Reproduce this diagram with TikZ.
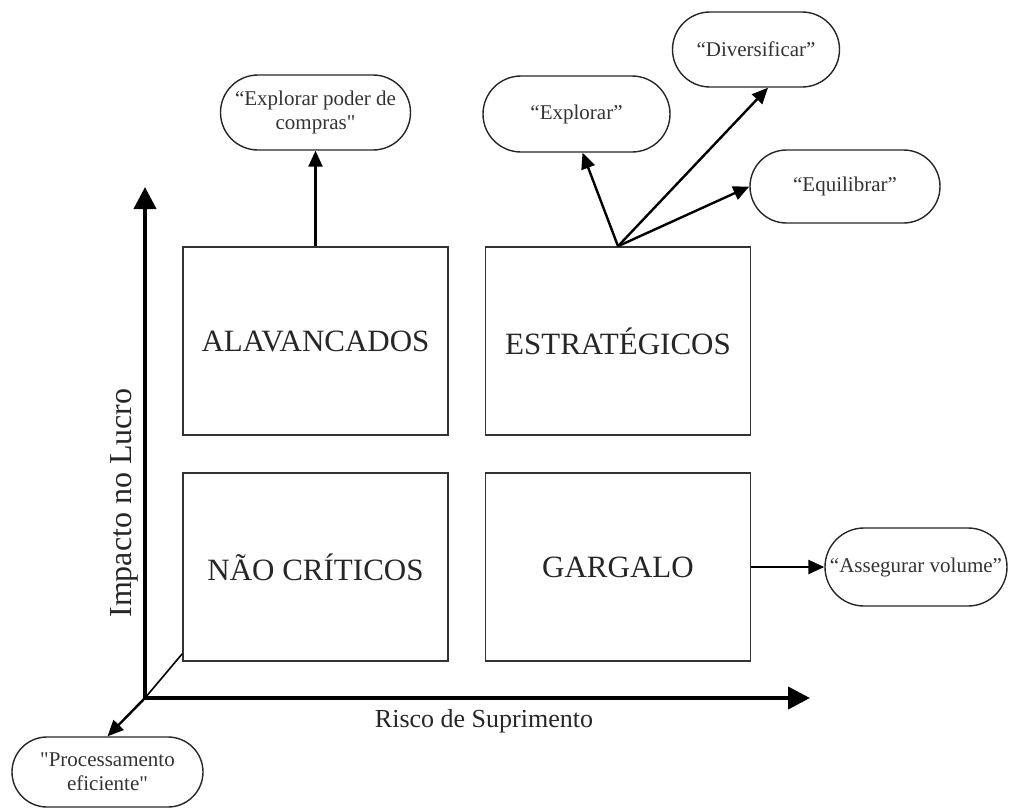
\documentclass[tikz,border=0pt]{standalone}
\usepackage{fontspec}
\setmainfont{Liberation Serif}[Ligatures=TeXOff]
\usetikzlibrary{arrows.meta,shapes.misc}

\tikzset{
  quad/.style={draw=black!80, line width=1.6pt, minimum width=265pt, minimum height=188pt,
    inner sep=0pt, font=\fontsize{31}{31}\selectfont, text=black!85},
  action/.style={draw=black!85, line width=1.4pt, rounded rectangle, inner sep=0pt,
    align=center, font=\fontsize{21}{24}\selectfont, text=black!80},
  axis/.style={line width=4pt, -{Triangle[length=22pt,width=22pt]}},
  link/.style={line width=2.4pt, -{Triangle[length=16pt,width=14pt]}},
  axislabel/.style={text=black!85},
}

\begin{document}
\begin{tikzpicture}[x=1pt,y=-1pt]
  \useasboundingbox (0,0) rectangle (1010,809);

  % four quadrants of the matrix
  \node[quad] (alav)  at (315.5,341) {ALAVANCADOS};
  \node[quad] (estr)  at (618,341)   {ESTRATÉGICOS};
  \node[quad] (naoc)  at (315.5,567) {NÃO CRÍTICOS};
  \node[quad] (garg)  at (618,567)   {GARGALO};

  % recommended actions
  \node[action, minimum width=190pt, minimum height=75pt] (poder) at (315.5,112.5)
    {“Explorar poder de\\compras"};
  \node[action, minimum width=187pt, minimum height=76pt] (explo) at (576.5,114) {“Explorar”};
  \node[action, minimum width=167pt, minimum height=75pt] (divers) at (756,49.5) {“Diversificar”};
  \node[action, minimum width=190pt, minimum height=73pt] (equil) at (845,186.5) {“Equilibrar”};
  \node[action, minimum width=182pt, minimum height=78pt] (asseg) at (916,567) {“Assegurar volume”};
  \node[action, minimum width=191pt, minimum height=70pt] (proc) at (107.5,772)
    {"Processamento\\eficiente"};

  % axes
  \coordinate (O) at (145,698);
  \coordinate (ytip) at (145,187);
  \coordinate (xtip) at (810,698);
  \draw[axis] (O) -- (ytip);
  \draw[axis] (O) -- (xtip);
  \draw[line width=1.6pt] (O) -- ([yshift=8pt]naoc.south west);

  \node[axislabel, font=\fontsize{26}{26}\selectfont] (xlab) at (484,721) {Risco de Suprimento};
  \node[axislabel, font=\fontsize{32}{32}\selectfont, rotate=90] (ylab) at (124,503) {Impacto no Lucro};

  % connectors
  \draw[link] (alav.north) -- (poder.south);
  \draw[link] (estr.north) -- ([xshift=6pt]explo.south);
  \draw[link] (estr.north) -- ([xshift=12pt]divers.south);
  \draw[link] (estr.north) -- (equil.west);
  \draw[link] (garg.east) -- (asseg.west);
  \draw[link] (O) -- (proc.north);
\end{tikzpicture}
\end{document}
